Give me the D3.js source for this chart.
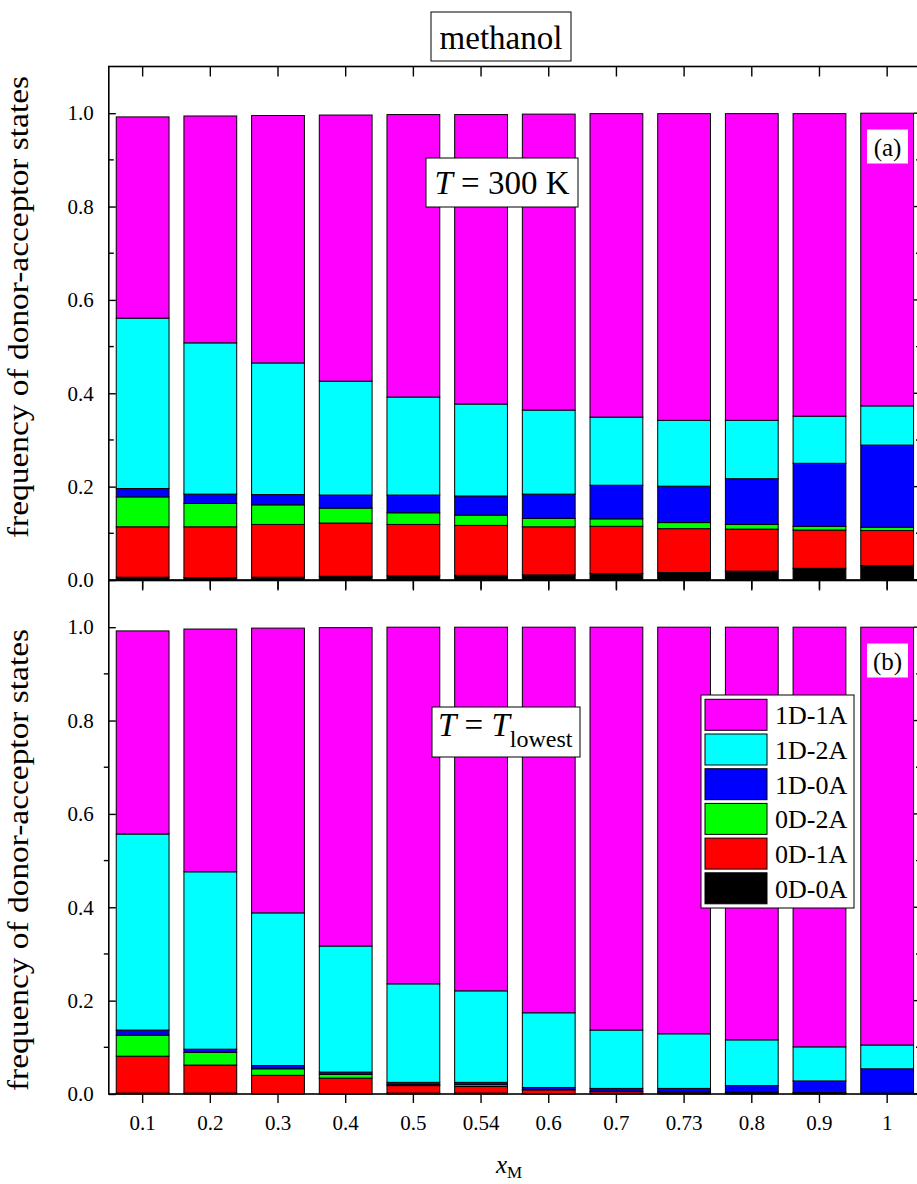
<!DOCTYPE html>
<html>
<head>
<meta charset="utf-8">
<script src="https://cdn.jsdelivr.net/npm/d3@7"></script>
<style>
  html, body { margin: 0; padding: 0; background: #fff; }
  svg { display: block; font-family: "Liberation Serif", "Times New Roman", serif; }
</style>
</head>
<body>
<svg id="chart" width="917" height="1184"></svg>
<script>
// Methanol mole fractions on the x axis
const categories = ["0.1", "0.2", "0.3", "0.4", "0.5", "0.54", "0.6", "0.7", "0.73", "0.8", "0.9", "1"];

// Donor-acceptor states, stacked from the bottom up
const states = ["0D-0A", "0D-1A", "0D-2A", "1D-0A", "1D-2A", "1D-1A"];
const stateColors = ["#000000", "#ff0000", "#00ff00", "#0000ff", "#00ffff", "#ff00ff"];
const legendOrder = ["1D-1A", "1D-2A", "1D-0A", "0D-2A", "0D-1A", "0D-0A"];

// Panel (a): T = 300 K
const s0D0A_300 = [0.006, 0.005, 0.006, 0.008, 0.009, 0.010, 0.011, 0.014, 0.016, 0.019, 0.025, 0.031];
const s0D1A_300 = [0.108, 0.109, 0.113, 0.114, 0.110, 0.107, 0.103, 0.101, 0.094, 0.090, 0.082, 0.075];
const s0D2A_300 = [0.064, 0.050, 0.042, 0.032, 0.025, 0.022, 0.018, 0.016, 0.013, 0.010, 0.008, 0.007];
const s1D0A_300 = [0.018, 0.020, 0.022, 0.028, 0.038, 0.041, 0.052, 0.072, 0.078, 0.098, 0.135, 0.176];
const s1D2A_300 = [0.365, 0.324, 0.282, 0.244, 0.210, 0.197, 0.180, 0.146, 0.141, 0.125, 0.101, 0.084];
const s1D1A_300 = [0.431, 0.486, 0.530, 0.570, 0.605, 0.620, 0.634, 0.650, 0.657, 0.657, 0.648, 0.627];

// Panel (b): T = T_lowest
const s0D0A_low = [0.002, 0.002, 0.001, 0.001, 0.002, 0.002, 0.001, 0.001, 0.001, 0.002, 0.002, 0.001];
const s0D1A_low = [0.079, 0.060, 0.039, 0.033, 0.016, 0.014, 0.008, 0.004, 0.003, 0.002, 0.001, 0.001];
const s0D2A_low = [0.045, 0.027, 0.014, 0.008, 0.002, 0.004, 0.001, 0.001, 0.000, 0.000, 0.000, 0.000];
const s1D0A_low = [0.011, 0.007, 0.007, 0.005, 0.005, 0.005, 0.004, 0.006, 0.008, 0.014, 0.025, 0.052];
const s1D2A_low = [0.420, 0.380, 0.327, 0.270, 0.211, 0.196, 0.160, 0.125, 0.117, 0.098, 0.073, 0.051];
const s1D1A_low = [0.435, 0.520, 0.610, 0.682, 0.764, 0.779, 0.826, 0.863, 0.871, 0.884, 0.899, 0.895];

const yMajorTicks = [0.0, 0.2, 0.4, 0.6, 0.8, 1.0];
const yMinorTicks = [0.1, 0.3, 0.5, 0.7, 0.9];

function buildRows(cols) {
  return categories.map((c, i) => {
    const row = { cat: c };
    states.forEach((s, k) => { row[s] = cols[k][i]; });
    return row;
  });
}

const panels = [
  {
    rows: buildRows([s0D0A_300, s0D1A_300, s0D2A_300, s1D0A_300, s1D2A_300, s1D1A_300]),
    top: 66.5, bottom: 580, tag: "(a)", minorOut: false, labelMid: 307
  },
  {
    rows: buildRows([s0D0A_low, s0D1A_low, s0D2A_low, s1D0A_low, s1D2A_low, s1D1A_low]),
    top: 580.5, bottom: 1094, tag: "(b)", minorOut: true, labelMid: 860
  }
];

const svg = d3.select("#chart");
svg.append("rect").attr("width", 917).attr("height", 1184).attr("fill", "#fff");

const plotLeft = 108.8, plotRight = 921;
const x = d3.scaleBand().domain(categories).range([plotLeft, plotRight])
  .paddingInner(0.22).paddingOuter(0.11);

const color = d3.scaleOrdinal().domain(states).range(stateColors);
const stack = d3.stack().keys(states);

panels.forEach((p, pi) => {
  const y = d3.scaleLinear().domain([0, 1.1]).range([p.bottom, p.top]);
  const g = svg.append("g");

  // stacked bars
  const series = stack(p.rows);
  g.selectAll("g.layer").data(series).join("g")
    .attr("class", "layer")
    .attr("fill", d => color(d.key))
    .selectAll("rect").data(d => d).join("rect")
      .attr("x", d => x(d.data.cat))
      .attr("width", x.bandwidth())
      .attr("y", d => y(d[1]))
      .attr("height", d => Math.max(0, y(d[0]) - y(d[1])))
      .attr("stroke", "#000")
      .attr("stroke-width", 1);

  // frame
  g.append("rect")
    .attr("x", plotLeft).attr("y", p.top)
    .attr("width", plotRight - plotLeft).attr("height", p.bottom - p.top)
    .attr("fill", "none").attr("stroke", "#000").attr("stroke-width", 1.6);

  // left axis: major ticks inside with labels
  const left = g.append("g").attr("transform", `translate(${plotLeft},0)`)
    .call(d3.axisLeft(y).tickValues(yMajorTicks).tickSize(-7).tickPadding(15)
      .tickFormat(d3.format(".1f")));
  left.select(".domain").remove();
  left.selectAll("line").attr("stroke", "#000").attr("stroke-width", 1.4);
  left.selectAll("text").attr("font-size", 21).attr("fill", "#000")
    .attr("font-family", "Liberation Serif, serif");

  // left axis minor ticks
  g.append("g").selectAll("line").data(yMinorTicks).join("line")
    .attr("x1", plotLeft).attr("x2", p.minorOut ? plotLeft - 5 : plotLeft + 5)
    .attr("y1", d => y(d)).attr("y2", d => y(d))
    .attr("stroke", "#000").attr("stroke-width", 1.4);

  // right axis ticks (inside)
  g.append("g").selectAll("line").data(yMajorTicks.concat(yMinorTicks)).join("line")
    .attr("x1", plotRight).attr("x2", d => plotRight - (yMajorTicks.includes(d) ? 7 : 5))
    .attr("y1", d => y(d)).attr("y2", d => y(d))
    .attr("stroke", "#000").attr("stroke-width", 1.4);

  // top ticks (inside)
  const topAx = g.append("g").attr("transform", `translate(0,${p.top})`)
    .call(d3.axisTop(x).tickSize(-10).tickFormat(""));
  topAx.select(".domain").remove();
  topAx.selectAll("line").attr("stroke", "#000").attr("stroke-width", 1.4);

  // bottom ticks (outside)
  const botAx = g.append("g").attr("transform", `translate(0,${p.bottom})`)
    .call(d3.axisBottom(x).tickSize(9).tickPadding(12)
      .tickFormat(pi === 1 ? (d => d) : ""));
  botAx.select(".domain").remove();
  botAx.selectAll("line").attr("stroke", "#000").attr("stroke-width", 1.4);
  botAx.selectAll("text").attr("font-size", 21).attr("fill", "#000")
    .attr("font-family", "Liberation Serif, serif");

  // y-axis title
  svg.append("text")
    .attr("transform", `translate(28,${p.labelMid}) rotate(-90)`)
    .attr("text-anchor", "middle")
    .attr("font-size", 28.5)
    .attr("textLength", 462)
    .attr("lengthAdjust", "spacingAndGlyphs")
    .text("frequency of donor-acceptor states");

  // panel tag
  const tagTop = p.top + 63;
  svg.append("rect").attr("x", 867).attr("y", tagTop).attr("width", 41).attr("height", 34)
    .attr("fill", "#fff");
  svg.append("text").attr("x", 887.5).attr("y", tagTop + 26)
    .attr("text-anchor", "middle").attr("font-size", 25).text(p.tag);
});

// temperature labels
svg.append("rect").attr("x", 426).attr("y", 158).attr("width", 152).attr("height", 49)
  .attr("fill", "#fff").attr("stroke", "#000").attr("stroke-width", 1);
const t1 = svg.append("text").attr("x", 502).attr("y", 194)
  .attr("text-anchor", "middle").attr("font-size", 33);
t1.append("tspan").attr("font-style", "italic").text("T");
t1.append("tspan").text(" = 300 K");

svg.append("rect").attr("x", 432).attr("y", 707).attr("width", 148).attr("height", 50)
  .attr("fill", "#fff").attr("stroke", "#000").attr("stroke-width", 1);
const t2 = svg.append("text").attr("x", 438).attr("y", 736).attr("font-size", 33);
t2.append("tspan").attr("font-style", "italic").text("T");
t2.append("tspan").text(" = ");
t2.append("tspan").attr("font-style", "italic").text("T");
t2.append("tspan").attr("font-size", 24).attr("dy", 11).text("lowest");

// legend
const lg = svg.append("g");
lg.append("rect").attr("x", 701).attr("y", 695).attr("width", 153).attr("height", 213)
  .attr("fill", "#fff").attr("stroke", "#000").attr("stroke-width", 1);
legendOrder.forEach((s, i) => {
  const yy = 699.3 + i * 34.7;
  lg.append("rect").attr("x", 705).attr("y", yy).attr("width", 62).attr("height", 31)
    .attr("fill", color(s)).attr("stroke", "#000").attr("stroke-width", 1);
  lg.append("text").attr("x", 775).attr("y", yy + 25).attr("font-size", 26).text(s);
});

// title
svg.append("rect").attr("x", 431).attr("y", 12).attr("width", 140).attr("height", 49)
  .attr("fill", "#fff").attr("stroke", "#000").attr("stroke-width", 1);
svg.append("text").attr("x", 501).attr("y", 49).attr("text-anchor", "middle")
  .attr("font-size", 33).text("methanol");

// x-axis title
const xt = svg.append("text").attr("x", 496).attr("y", 1173).attr("font-size", 25);
xt.append("tspan").attr("font-style", "italic").text("x");
xt.append("tspan").attr("font-size", 17).attr("dy", 5).text("M");
</script>
</body>
</html>
